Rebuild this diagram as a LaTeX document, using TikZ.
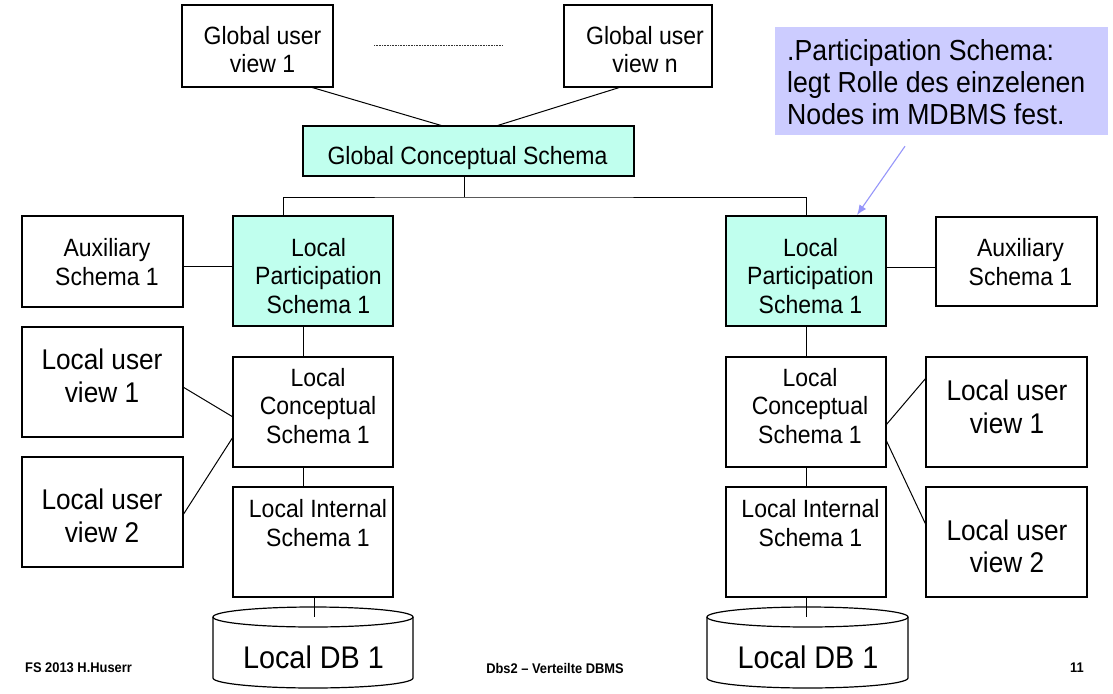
\documentclass[tikz,border=0pt]{standalone}
\usepackage{fontspec}
\setmainfont{Liberation Sans}[FakeStretch=0.92]
\usetikzlibrary{calc,arrows.meta}
\definecolor{aqua}{RGB}{192,255,238}
\definecolor{lav}{RGB}{204,204,255}
\definecolor{lavline}{RGB}{150,150,250}
\begin{document}
\begin{tikzpicture}[x=1pt,y=-1pt,
  box/.style={draw=black,line width=1.2pt,fill=white,inner sep=0pt,outer sep=0pt,minimum width=#1},
  box/.default=160pt,
  cbox/.style={box=#1,fill=aqua},
  cbox/.default=160pt,
  txt/.style={align=center,inner sep=0pt,font=\fontsize{25}{28.5}\selectfont},
  bigtxt/.style={align=center,inner sep=0pt,font=\fontsize{28.5}{32.5}\selectfont},
  dbtxt/.style={inner sep=0pt,font=\fontsize{31.3}{36}\selectfont},
  foot/.style={inner sep=0pt,font=\fontsize{14}{16}\selectfont\bfseries},
  conn/.style={draw=black,line width=1pt},
  cyl/.style={draw=black,line width=1.2pt}
]
\useasboundingbox (0,0) rectangle (1113,693);
\fill[white] (0,0) rectangle (1113,693);

% top level
\node[box=151pt,minimum height=82pt] (guv1) at (257.5,46) {};
\node[txt] (guv1t) at (262.5,49.5) {Global user\\view 1};
\node[box=148pt,minimum height=82pt] (guvn) at (638,46) {};
\node[txt] (guvnt) at (645,49.5) {Global user\\view n};
\draw[line width=0.7pt,black!80,dash pattern=on 0.8pt off 0.8pt]
  ($(guv1.east)+(41,-1)$) -- ($(guvn.west)+(-61,-1)$);
\node[cbox=331pt,minimum height=50pt] (gcs) at (468.5,151) {};
\node[txt] (gcst) at (467.5,158.5) {Global Conceptual Schema};
\draw[conn] ($(guv1.south)+(53,0)$) -- ($(gcs.north)+(-25.5,0)$);
\draw[conn] ($(guvn.south)+(-17,0)$) -- ($(gcs.north)+(27.5,0)$);

% callout
\node[fill=lav,inner sep=0pt,minimum width=333pt,minimum height=108pt] (note) at (941.5,81) {};
\node[anchor=west,align=left,inner sep=0pt,font=\fontsize{29}{32}\selectfont] (notet) at (787,82)
  {.Participation Schema:\\legt Rolle des einzelenen\\Nodes im MDBMS fest.};

% left column
\node[box=161pt,minimum height=91pt] (auxL) at (102.5,261.5) {};
\node[txt] (auxLt) at (107,262) {Auxiliary\\Schema 1};
\node[cbox,minimum height=110pt] (lpsL) at (313,271) {};
\node[txt] (lpsLt) at (318.5,276) {Local\\Participation\\Schema 1};
\node[box=161pt,minimum height=110pt] (luv1L) at (102.5,382) {};
\node[bigtxt] (luv1Lt) at (102,376) {Local user\\view 1};
\node[box=161pt,minimum height=110pt] (luv2L) at (102.5,512) {};
\node[bigtxt] (luv2Lt) at (102,516) {Local user\\view 2};
\node[box,minimum height=110pt] (lcsL) at (313,412) {};
\node[txt] (lcsLt) at (318,406) {Local\\Conceptual\\Schema 1};
\node[box,minimum height=110pt] (lisL) at (313,542) {};
\node[txt] (lisLt) at (318,523) {Local Internal\\Schema 1};

% right column
\node[cbox,minimum height=110pt] (lpsR) at (806,271) {};
\node[txt] (lpsRt) at (810.5,276) {Local\\Participation\\Schema 1};
\node[box=161pt,minimum height=89pt] (auxR) at (1016.5,261.5) {};
\node[txt] (auxRt) at (1020.5,262) {Auxiliary\\Schema 1};
\node[box,minimum height=110pt] (lcsR) at (806,412) {};
\node[txt] (lcsRt) at (810,406) {Local\\Conceptual\\Schema 1};
\node[box,minimum height=110pt] (lisR) at (806,542) {};
\node[txt] (lisRt) at (810.5,523) {Local Internal\\Schema 1};
\node[box=161pt,minimum height=110pt] (luv1R) at (1006.5,412) {};
\node[bigtxt] (luv1Rt) at (1007,407) {Local user\\view 1};
\node[box=161pt,minimum height=110pt] (luv2R) at (1006.5,542) {};
\node[bigtxt] (luv2Rt) at (1007,546.5) {Local user\\view 2};

% bus from global conceptual schema
\coordinate (bus) at ($(gcs.south)+(-4.5,21)$);
\draw[conn] ($(gcs.south)+(-4.5,0)$) -- (bus);
\draw[conn] ($(lpsL.north)+(-29.5,0)$) |- (bus) -| (lpsR.north);

% left connectors
\draw[conn] ($(auxL.east)+(0,4.5)$) -- ($(lpsL.west)+(0,-5)$);
\draw[conn] ($(lpsL.south)+(-10,0)$) -- ($(lcsL.north)+(-10,0)$);
\draw[conn] ($(lcsL.south)+(-10,0)$) -- ($(lisL.north)+(-10,0)$);
\draw[conn] ($(luv1L.east)+(0,5)$) -- ($(lcsL.west)+(0,5)$);
\draw[conn] ($(luv2L.east)+(0,3)$) -- ($(lcsL.west)+(0,25)$);

% right connectors
\draw[conn] ($(lpsR.east)+(0,-4)$) -- ($(auxR.west)+(0,5.5)$);
\draw[conn] (lpsR.south) -- (lcsR.north);
\draw[conn] (lcsR.south) -- (lisR.north);
\draw[conn] ($(lcsR.east)+(0,13)$) -- ($(luv1R.west)+(0,-34)$);
\draw[conn] ($(lcsR.east)+(0,28)$) -- ($(luv2R.west)+(0,-17)$);

% callout arrow
\draw[draw=lavline,line width=1.1pt,-{Latex[length=10pt,width=8pt]}]
  ($(note.south)+(-36.5,11)$) -- ($(lpsR.north)+(51,-1)$);

% cylinders
\draw[cyl,fill=white] (213,617) -- (213,678) arc[start angle=180,end angle=360,x radius=100pt,y radius=10pt] -- (413,617);
\draw[cyl,fill=white] (313,617) ellipse[x radius=100pt,y radius=10pt];
\coordinate (cylLtop) at (314,617);
\node[dbtxt] (dbL) at (313.5,657) {Local DB 1};
\draw[cyl,fill=white] (707,617) -- (707,678) arc[start angle=180,end angle=360,x radius=100.5pt,y radius=10pt] -- (908,617);
\draw[cyl,fill=white] (807.5,617) ellipse[x radius=100.5pt,y radius=10pt];
\coordinate (cylRtop) at (806,617);
\node[dbtxt] (dbR) at (808,657) {Local DB 1};
\draw[conn] ($(lisL.south)+(1,0)$) -- (cylLtop);
\draw[conn] (lisR.south) -- (cylRtop);

% footer
\node[foot,anchor=west] (f1) at (25,668) {FS 2013 H.Huserr};
\node[foot] (f2) at (555,668) {Dbs2 – Verteilte DBMS};
\node[foot] (f3) at (1077,668) {11};
\end{tikzpicture}
\end{document}
